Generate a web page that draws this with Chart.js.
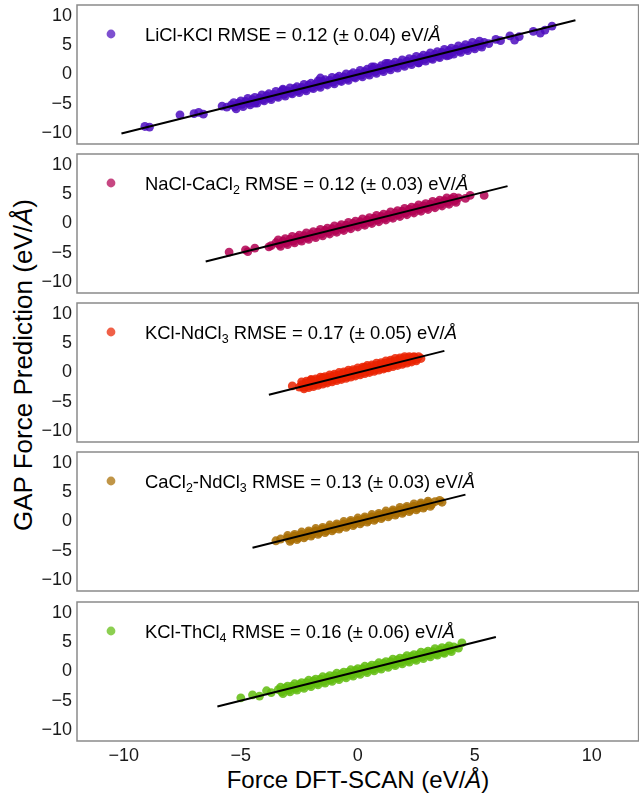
<!DOCTYPE html>
<html>
<head>
<meta charset="utf-8">
<script src="https://cdn.jsdelivr.net/npm/chart.js@4.4.1/dist/chart.umd.min.js"></script>
<style>
  html, body { margin: 0; padding: 0; background: #fff; overflow: hidden; }
  #figure { position: relative; width: 639px; height: 793px; overflow: hidden;
            font-family: "Liberation Sans", Arial, sans-serif; }
  #figure canvas { position: absolute; left: 0; }
  .axis-title { position: absolute; color: #000; white-space: nowrap; }
  #y-title { left: 23px; top: 365px; font-size: 26px; transform: translate(-50%, -50%) rotate(-90deg); }
  #x-title { left: 358px; top: 780px; font-size: 24px; transform: translate(-50%, -50%); }
</style>
</head>
<body>
<div id="figure">
  <div id="y-title" class="axis-title">GAP Force Prediction (eV/<i>Å</i>)</div>
  <div id="x-title" class="axis-title">Force DFT-SCAN (eV/<i>Å</i>)</div>
</div>
<script>
// Salt systems, one panel each ("_n" marks a subscript)
const systems = ['LiCl-KCl', 'NaCl-CaCl_2', 'KCl-NdCl_3', 'CaCl_2-NdCl_3', 'KCl-ThCl_4'];
const rmse = [0.12, 0.12, 0.17, 0.13, 0.16];
const rmseErr = [0.04, 0.03, 0.05, 0.03, 0.06];
const colors = ['76,12,190', '178,0,82', '234,34,0', '168,108,0', '96,188,14'];

const xTicks = [-10, -5, 0, 5, 10];
const yTicks = [-10, -5, 0, 5, 10];

// [DFT force, GAP force] pairs
const licl = [
  [-9.1,-8.9],[-8.9,-9.0],[-7.6,-6.9],[-7.0,-6.7],[-6.8,-6.5],[-6.6,-6.8],[-5.8,-5.4],[-5.6,-5.6],
  [-5.4,-5.2],[-5.25,-5.5],[-5.1,-4.9],[-4.95,-5.1],[-4.8,-4.6],[-4.65,-4.9],[-4.5,-4.3],[-4.35,-4.6],
  [-4.2,-4.0],[-4.05,-4.3],[-3.9,-3.6],[-3.75,-4.0],[-3.6,-3.4],[-3.45,-3.7],[-3.3,-3.0],[-3.15,-3.4],
  [-3.0,-2.8],[-2.85,-3.1],[-2.7,-2.4],[-2.55,-2.8],[-2.4,-2.2],[-2.25,-2.5],[-2.1,-1.8],[-1.95,-2.2],
  [-1.8,-1.6],[-1.65,-1.9],[-1.5,-1.2],[-1.35,-1.6],[-1.2,-1.0],[-1.05,-1.3],[-0.9,-0.6],[-0.75,-1.0],
  [-0.6,-0.4],[-0.45,-0.7],[-0.3,0.0],[-0.15,-0.4],[0,0.2],[0.15,-0.1],[0.3,0.5],[0.45,0.2],
  [0.6,0.8],[0.75,0.5],[0.9,1.1],[1.05,0.8],[1.2,1.4],[1.35,1.1],[1.5,1.7],[1.65,1.4],
  [1.8,2.0],[1.95,1.7],[2.1,2.3],[2.25,2.0],[2.4,2.6],[2.55,2.3],[2.7,2.9],[2.85,2.6],
  [3.0,3.2],[3.15,2.8],[3.3,3.5],[3.45,3.1],[3.6,3.8],[3.75,3.4],[3.9,4.1],[4.05,3.8],
  [4.2,4.3],[4.35,4.1],[4.5,4.6],[4.65,4.4],[4.8,4.9],[4.95,4.7],[5.1,5.2],[5.25,5.0],[5.4,5.5],
  [-5.3,-4.8],[-5.2,-5.9],[-5.0,-4.5],[-4.9,-5.5],[-4.7,-4.1],[-4.6,-5.2],[-4.4,-3.9],[-4.3,-4.9],
  [-4.1,-3.5],[-4.0,-4.5],[-3.8,-3.3],[-3.7,-4.3],[-3.5,-2.9],[-3.4,-3.9],[-3.2,-2.7],[-3.1,-3.7],
  [-2.9,-2.3],[-2.8,-3.3],[-2.6,-2.1],[-2.5,-3.1],[-2.3,-1.7],[-2.2,-2.8],[-2.0,-1.5],[-1.9,-2.4],
  [-1.7,-1.1],[-1.6,-2.2],[-1.4,-0.9],[-1.3,-1.8],[-1.1,-0.5],[-1.0,-1.6],[-0.8,-0.3],[-0.7,-1.2],
  [-0.5,0.1],[-0.4,-1.0],[-0.2,0.3],[-0.1,-0.6],[0.1,0.7],[0.2,-0.4],[0.4,0.9],[0.5,-0.1],
  [0.7,1.3],[0.8,0.2],[1.0,1.5],[1.1,0.5],[1.3,1.9],[1.4,0.8],[1.6,2.1],[1.7,1.1],
  [1.9,2.5],[2.0,1.4],[2.2,2.7],[2.3,1.7],[2.5,3.1],[2.6,2.0],[2.8,3.3],[2.9,2.3],
  [3.1,3.7],[3.2,2.6],[3.4,3.9],[3.5,2.9],[3.7,4.3],[3.8,3.2],[4.0,4.5],[4.1,3.5],
  [4.3,4.9],[4.4,3.8],[4.6,5.1],[4.7,4.1],[4.9,5.5],[5.0,4.4],[5.2,5.7],[5.3,4.7],
  [-1.6,-0.6],[1.2,1.9],[-3.2,-2.5],[2.6,2.0],[3.9,3.3],[-4.4,-4.9],[0.6,1.3],
  [5.6,5.3],[5.9,6.0],[6.1,5.8],[6.5,6.6],[6.7,5.9],[6.9,6.5],[7.5,7.4],[7.8,7.1],[8.0,7.6],[8.3,8.3]
];
const nacl = [
  [-5.5,-4.9],[-4.8,-4.5],[-4.7,-4.8],[-4.4,-4.2],[-3.8,-4.0],[-3.7,-3.8],
  [-3.5,-3.3],[-3.35,-3.6],[-3.2,-3.0],[-3.05,-3.3],[-2.9,-2.7],[-2.75,-3.0],[-2.6,-2.4],[-2.45,-2.7],
  [-2.3,-2.1],[-2.15,-2.4],[-2.0,-1.8],[-1.85,-2.1],[-1.7,-1.5],[-1.55,-1.8],[-1.4,-1.2],[-1.25,-1.5],
  [-1.1,-0.9],[-0.95,-1.2],[-0.8,-0.6],[-0.65,-0.9],[-0.5,-0.3],[-0.35,-0.6],[-0.2,0.0],[-0.05,-0.3],
  [0.1,0.3],[0.25,0.0],[0.4,0.6],[0.55,0.3],[0.7,0.9],[0.85,0.6],[1.0,1.2],[1.15,0.9],
  [1.3,1.5],[1.45,1.2],[1.6,1.8],[1.75,1.5],[1.9,2.1],[2.05,1.8],[2.2,2.4],[2.35,2.1],
  [2.5,2.7],[2.65,2.4],[2.8,3.0],[2.95,2.7],[3.1,3.3],[3.25,3.0],[3.4,3.6],[3.55,3.3],
  [3.7,3.9],[3.85,3.6],[4.0,4.2],[4.15,3.9],[4.3,4.4],
  [-3.4,-2.8],[-3.3,-3.9],[-3.1,-2.6],[-3.0,-3.6],[-2.8,-2.2],[-2.7,-3.3],[-2.5,-2.0],[-2.4,-3.0],
  [-2.2,-1.6],[-2.1,-2.7],[-1.9,-1.4],[-1.8,-2.4],[-1.6,-1.0],[-1.5,-2.1],[-1.3,-0.8],[-1.2,-1.8],
  [-1.0,-0.4],[-0.9,-1.5],[-0.7,-0.2],[-0.6,-1.2],[-0.4,0.2],[-0.3,-0.9],[-0.1,0.4],[0.0,-0.6],
  [0.2,0.8],[0.3,-0.3],[0.5,1.0],[0.6,0.0],[0.8,1.4],[0.9,0.3],[1.1,1.6],[1.2,0.6],
  [1.4,2.0],[1.5,0.9],[1.7,2.2],[1.8,1.2],[2.0,2.6],[2.1,1.5],[2.3,2.8],[2.4,1.8],
  [2.6,3.2],[2.7,2.1],[2.9,3.4],[3.0,2.4],[3.2,3.8],[3.3,2.7],[3.5,4.0],[3.6,3.0],
  [3.8,4.4],[3.9,3.3],[4.1,4.5],[4.2,3.6],
  [4.6,4.3],[4.8,4.8],[5.4,4.8]
];
const kclNd = [
  [-2.8,-2.3],[-2.5,-2.5],
  [-2.4,-2.1],[-2.3,-2.5],[-2.2,-1.8],[-2.1,-2.3],[-2.0,-1.6],[-1.9,-2.1],[-1.8,-1.4],[-1.7,-1.9],
  [-1.6,-1.2],[-1.5,-1.7],[-1.4,-1.0],[-1.3,-1.5],[-1.2,-0.8],[-1.1,-1.3],[-1.0,-0.6],[-0.9,-1.1],
  [-0.8,-0.4],[-0.7,-0.9],[-0.6,-0.2],[-0.5,-0.7],[-0.4,0.0],[-0.3,-0.5],[-0.2,0.2],[-0.1,-0.3],
  [0,0.4],[0.1,-0.1],[0.2,0.6],[0.3,0.1],[0.4,0.8],[0.5,0.3],[0.6,1.0],[0.7,0.5],
  [0.8,1.2],[0.9,0.7],[1.0,1.4],[1.1,0.9],[1.2,1.6],[1.3,1.1],[1.4,1.8],[1.5,1.3],
  [1.6,2.0],[1.7,1.5],[1.8,2.2],[1.9,1.7],[2.0,2.4],[2.1,1.9],[2.2,2.5],[2.3,2.1],
  [2.4,2.6],[2.5,2.3],[2.6,2.7],[2.7,2.4],
  [-2.4,-1.6],[-2.3,-2.8],[-2.2,-1.5],[-2.1,-2.6],[-2.0,-1.2],[-1.9,-2.4],[-1.8,-1.1],[-1.7,-2.2],
  [-1.6,-0.8],[-1.5,-2.0],[-1.4,-0.7],[-1.3,-1.8],[-1.2,-0.4],[-1.1,-1.6],[-1.0,-0.3],[-0.9,-1.4],
  [-0.8,0.0],[-0.7,-1.2],[-0.6,0.1],[-0.5,-1.0],[-0.4,0.4],[-0.3,-0.8],[-0.2,0.5],[-0.1,-0.6],
  [0.0,0.8],[0.1,-0.4],[0.2,0.9],[0.3,-0.2],[0.4,1.2],[0.5,0.0],[0.6,1.3],[0.7,0.2],
  [0.8,1.6],[0.9,0.4],[1.0,1.7],[1.1,0.6],[1.2,2.0],[1.3,0.8],[1.4,2.1],[1.5,1.0],
  [1.6,2.4],[1.7,1.2],[1.8,2.5],[1.9,1.4],[2.0,2.7],[2.1,1.6],[2.2,2.7],[2.3,1.8],
  [2.4,2.7],[2.5,2.0],
  [-1.5,-0.9],[0.3,0.9],[1.2,0.8],[-2.0,-1.3]
];
const caclNd = [
  [-3.5,-3.3],[-3.3,-3.0],
  [-3.0,-2.8],[-2.85,-3.1],[-2.7,-2.5],[-2.55,-2.8],[-2.4,-2.2],[-2.25,-2.5],[-2.1,-1.9],[-1.95,-2.2],
  [-1.8,-1.6],[-1.65,-1.9],[-1.5,-1.3],[-1.35,-1.6],[-1.2,-1.0],[-1.05,-1.3],[-0.9,-0.7],[-0.75,-1.0],
  [-0.6,-0.4],[-0.45,-0.7],[-0.3,-0.1],[-0.15,-0.4],[0,0.2],[0.15,-0.1],[0.3,0.5],[0.45,0.2],
  [0.6,0.8],[0.75,0.5],[0.9,1.1],[1.05,0.8],[1.2,1.4],[1.35,1.1],[1.5,1.7],[1.65,1.4],
  [1.8,2.0],[1.95,1.7],[2.1,2.3],[2.25,2.0],[2.4,2.6],[2.55,2.3],[2.7,2.9],[2.85,2.6],
  [3.0,3.2],[3.15,2.9],
  [-3.0,-2.4],[-2.9,-3.4],[-2.7,-2.2],[-2.6,-3.1],[-2.4,-1.8],[-2.3,-2.8],[-2.1,-1.6],[-2.0,-2.5],
  [-1.8,-1.2],[-1.7,-2.2],[-1.5,-1.0],[-1.4,-1.9],[-1.2,-0.6],[-1.1,-1.6],[-0.9,-0.4],[-0.8,-1.3],
  [-0.6,0.0],[-0.5,-1.0],[-0.3,0.2],[-0.2,-0.7],[0.0,0.6],[0.1,-0.4],[0.3,0.8],[0.4,-0.1],
  [0.6,1.2],[0.7,0.2],[0.9,1.4],[1.0,0.5],[1.2,1.8],[1.3,0.8],[1.5,2.0],[1.6,1.1],
  [1.8,2.4],[1.9,1.4],[2.1,2.6],[2.2,1.7],[2.4,3.0],[2.5,2.0],[2.7,3.2],[2.8,2.3],
  [3.0,3.5],[3.1,2.6],
  [3.3,3.4],[3.5,3.6],[3.6,3.3]
];
const kclTh = [
  [-5.0,-4.5],[-4.5,-4.0],[-4.2,-4.2],[-3.9,-3.3],[-3.7,-3.6],
  [-3.4,-3.1],[-3.25,-3.5],[-3.1,-2.8],[-2.95,-3.2],[-2.8,-2.5],[-2.65,-2.9],[-2.5,-2.2],[-2.35,-2.6],
  [-2.2,-1.9],[-2.05,-2.3],[-1.9,-1.6],[-1.75,-2.0],[-1.6,-1.3],[-1.45,-1.7],[-1.3,-1.0],[-1.15,-1.4],
  [-1.0,-0.7],[-0.85,-1.1],[-0.7,-0.4],[-0.55,-0.8],[-0.4,-0.1],[-0.25,-0.5],[-0.1,0.2],[0.05,-0.2],
  [0.2,0.5],[0.35,0.1],[0.5,0.8],[0.65,0.4],[0.8,1.1],[0.95,0.7],[1.1,1.4],[1.25,1.0],
  [1.4,1.7],[1.55,1.3],[1.7,2.0],[1.85,1.6],[2.0,2.3],[2.15,1.9],[2.3,2.6],[2.45,2.2],
  [2.6,2.9],[2.75,2.5],[2.9,3.2],[3.05,2.8],[3.2,3.4],[3.35,3.0],[3.5,3.7],[3.65,3.3],
  [3.8,4.0],[3.95,3.7],[4.1,4.2],
  [-3.3,-2.7],[-3.2,-3.8],[-3.0,-2.5],[-2.9,-3.5],[-2.7,-2.1],[-2.6,-3.2],[-2.4,-1.9],[-2.3,-2.9],
  [-2.1,-1.5],[-2.0,-2.6],[-1.8,-1.3],[-1.7,-2.3],[-1.5,-0.9],[-1.4,-2.0],[-1.2,-0.7],[-1.1,-1.7],
  [-0.9,-0.3],[-0.8,-1.4],[-0.6,-0.1],[-0.5,-1.1],[-0.3,0.3],[-0.2,-0.8],[0.0,0.5],[0.1,-0.5],
  [0.3,0.9],[0.4,-0.2],[0.6,1.1],[0.7,0.1],[0.9,1.5],[1.0,0.4],[1.2,1.7],[1.3,0.7],
  [1.5,2.1],[1.6,1.0],[1.8,2.3],[1.9,1.3],[2.1,2.7],[2.2,1.6],[2.4,2.9],[2.5,1.9],
  [2.7,3.3],[2.8,2.2],[3.0,3.5],[3.1,2.5],[3.3,3.9],[3.4,2.8],[3.6,4.1],[3.7,3.1],
  [3.9,4.4],[4.0,3.4],
  [4.3,4.0],[4.45,4.9]
];
const panelPoints = [licl, nacl, kclNd, caclNd, kclTh];

// panel placement on the page
const panelTop = [5, 154, 303, 452, 602];
const panelH = 139;
const pad = 16;
const yAxisW = 77;
const xAxisH = 34;
const fontFamily = '"Liberation Sans", Arial, sans-serif';

Chart.defaults.font.family = fontFamily;
Chart.defaults.color = '#1a1a1a';

const minus = v => String(v).replace('-', '\u2212');
const rgba = (c, a) => `rgba(${c},${a})`;

// grey box round the plotting area
const panelFrame = {
  id: 'panelFrame',
  afterDraw(chart) {
    const {ctx, chartArea: a} = chart;
    ctx.save();
    ctx.strokeStyle = '#8a8a8a';
    ctx.lineWidth = 1.5;
    ctx.strokeRect(a.left, a.top, a.right - a.left, a.bottom - a.top);
    ctx.restore();
  }
};

// marker + label with subscripts, drawn at the top-left of the panel
const seriesLabel = {
  id: 'seriesLabel',
  afterDraw(chart, args, opts) {
    const {ctx, chartArea: a} = chart;
    const cy = a.top + 29;
    ctx.save();
    ctx.fillStyle = opts.color;
    ctx.beginPath();
    ctx.arc(a.left + 34, cy, 4.4, 0, Math.PI * 2);
    ctx.fill();

    ctx.fillStyle = '#000';
    ctx.textBaseline = 'alphabetic';
    let x = a.left + 68;
    const base = cy + 6.5;
    opts.parts.forEach(p => {
      if (p.sub) {
        ctx.font = '12.5px ' + fontFamily;
        ctx.fillText(p.text, x, base + 4);
      } else {
        ctx.font = (p.italic ? 'italic ' : '') + '18.4px ' + fontFamily;
        ctx.fillText(p.text, x, base);
      }
      x += ctx.measureText(p.text).width;
    });
    ctx.restore();
  }
};

function labelParts(i) {
  const parts = [];
  systems[i].split(/_(\d)/).forEach((t, k) => {
    if (t) parts.push({text: t, sub: k % 2 === 1});
  });
  parts.push({text: ` RMSE = ${rmse[i].toFixed(2)} (\u00b1 ${rmseErr[i].toFixed(2)}) eV/`});
  parts.push({text: '\u00c5', italic: true});
  return parts;
}

const figure = document.getElementById('figure');

panelPoints.forEach((pts, i) => {
  const last = i === panelPoints.length - 1;
  const canvas = document.createElement('canvas');
  const h = pad + panelH + (last ? xAxisH : pad);
  canvas.width = 643;
  canvas.height = h;
  canvas.style.top = (panelTop[i] - pad) + 'px';
  figure.appendChild(canvas);

  // parity line y = x, one unit past the data on both ends
  const vals = pts.flat();
  const lo = Math.min(...vals) - 1;
  const hi = Math.max(...vals) + 1;

  new Chart(canvas, {
    type: 'scatter',
    data: {
      datasets: [
        {
          type: 'line',
          data: [{x: lo, y: lo}, {x: hi, y: hi}],
          borderColor: '#000',
          borderWidth: 2,
          pointRadius: 0,
          fill: false
        },
        {
          data: pts.map(p => ({x: p[0], y: p[1]})),
          backgroundColor: rgba(colors[i], 0.85),
          pointRadius: 4.4,
          pointBorderWidth: 0
        }
      ]
    },
    options: {
      responsive: false,
      animation: false,
      devicePixelRatio: 1,
      layout: {padding: {top: pad, bottom: last ? 0 : pad, left: 0, right: 0}},
      plugins: {
        legend: {display: false},
        tooltip: {enabled: false},
        seriesLabel: {color: rgba(colors[i], 0.72), parts: labelParts(i)}
      },
      scales: {
        x: {
          type: 'linear',
          min: -12,
          max: 12,
          display: last,
          grid: {display: false, drawTicks: false},
          border: {display: false},
          afterBuildTicks: s => { s.ticks = xTicks.map(v => ({value: v})); },
          afterFit: s => { if (last) s.height = xAxisH; },
          ticks: {font: {size: 18}, padding: 4, callback: v => minus(v)}
        },
        y: {
          type: 'linear',
          min: -11.9,
          max: 11.9,
          grid: {display: false, drawTicks: false},
          border: {display: false},
          afterBuildTicks: s => { s.ticks = yTicks.map(v => ({value: v})); },
          afterFit: s => { s.width = yAxisW; },
          ticks: {font: {size: 18}, padding: 5, callback: v => minus(v)}
        }
      }
    },
    plugins: [panelFrame, seriesLabel]
  });
});
</script>
</body>
</html>
